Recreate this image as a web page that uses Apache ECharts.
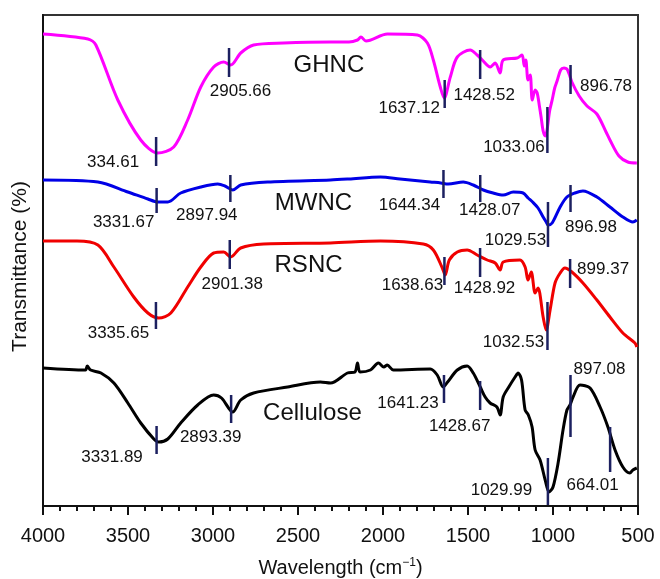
<!DOCTYPE html>
<html>
<head>
<meta charset="utf-8">
<script src="https://cdn.jsdelivr.net/npm/echarts/dist/echarts.min.js"></script>
<style>
  html, body { margin: 0; padding: 0; background: #fff; }
  #chart { width: 660px; height: 579px; }
</style>
</head>
<body>
<div id="chart"></div>
<script>
// ---------- DATA (wavenumber cm-1, transmittance in arbitrary offset units) ----------
const seriesNames = ['GHNC', 'MWNC', 'RSNC', 'Cellulose'];

const ghnc = [
  [4000, 472], [3736, 467], [3689, 461], [3560, 406], [3425, 366], [3325, 353], [3231, 359],
  [3149, 386], [3072, 419], [2996, 439], [2937, 444], [2896, 441], [2837, 453], [2761, 461],
  [2585, 463], [2309, 464], [2200, 464], [2150, 466], [2130, 469], [2100, 465], [1974, 472],
  [1798, 471], [1739, 463], [1704, 446], [1663, 419], [1640, 408], [1604, 429], [1563, 449],
  [1487, 456], [1446, 451], [1416, 446], [1369, 439], [1340, 443], [1311, 433], [1293, 446],
  [1211, 448], [1182, 451], [1169, 440], [1160, 446], [1147, 426], [1134, 431], [1122, 406],
  [1105, 416], [1093, 413], [1080, 400], [1070, 389], [1058, 375], [1045, 370], [1035, 376],
  [1020, 395], [1005, 406], [990, 418], [976, 425], [955, 436], [935, 438], [918, 437],
  [905, 432], [889, 424], [846, 410], [800, 400], [742, 392], [688, 374], [665, 366],
  [612, 350], [560, 344], [507, 343]
];

const mwnc = [
  [4000, 326], [3677, 324], [3501, 314], [3383, 307], [3325, 304], [3266, 304], [3190, 313],
  [3072, 319], [2972, 322], [2930, 320], [2884, 316], [2837, 321], [2679, 324], [2309, 326],
  [2200, 327], [2015, 329], [1900, 327], [1722, 324], [1660, 323], [1616, 322], [1528, 324],
  [1469, 321], [1410, 316], [1352, 313], [1293, 311], [1234, 314], [1176, 313], [1146, 308],
  [1120, 304], [1088, 298], [1058, 289], [1040, 284], [1029, 281], [1005, 283], [958, 299],
  [918, 309], [871, 313], [824, 315], [742, 309], [665, 299], [589, 289], [530, 284], [507, 286]
];

const rsnc = [
  [4000, 265], [3800, 265], [3677, 261], [3583, 239], [3466, 209], [3383, 193], [3319, 188],
  [3248, 193], [3149, 219], [3072, 239], [2996, 253], [2937, 254], [2896, 249], [2837, 258],
  [2702, 262], [2309, 263], [2015, 265], [1763, 262], [1704, 256], [1651, 238], [1634, 231],
  [1610, 246], [1563, 254], [1505, 256], [1446, 251], [1387, 246], [1340, 243], [1311, 236],
  [1293, 244], [1194, 246], [1164, 239], [1147, 226], [1128, 234], [1105, 213], [1088, 218],
  [1058, 189], [1040, 176], [1017, 196], [988, 223], [958, 233], [930, 238], [889, 234],
  [824, 223], [742, 206], [665, 189], [589, 173], [518, 163], [507, 159]
];

const cellulose = [
  [4000, 138], [3750, 136], [3740, 140], [3720, 136], [3659, 133], [3583, 123], [3501, 103],
  [3425, 83], [3348, 67], [3320, 64], [3266, 67], [3190, 83], [3090, 101], [2996, 111],
  [2950, 108], [2884, 94], [2837, 106], [2761, 113], [2561, 119], [2368, 124], [2309, 123],
  [2209, 133], [2165, 134], [2150, 143], [2135, 134], [2074, 136], [2027, 143], [1995, 139],
  [1975, 141], [1939, 136], [1722, 137], [1681, 131], [1646, 119], [1620, 124], [1563, 136],
  [1505, 140], [1469, 133], [1428, 119], [1399, 109], [1370, 103], [1330, 99], [1311, 91],
  [1293, 109], [1260, 119], [1223, 129], [1205, 133], [1185, 126], [1164, 96], [1145, 91],
  [1123, 79], [1105, 56], [1076, 46], [1046, 26], [1023, 14], [1000, 19], [970, 43],
  [941, 76], [918, 96], [900, 101], [882, 109], [841, 121], [782, 118], [723, 99],
  [677, 79], [635, 56], [589, 39], [548, 33], [530, 36], [507, 38]
];

// Peak markers: [wavenumber, lower transmittance, upper transmittance]
const ghncPeaks = [[3334.61, 340, 369], [2905.66, 429, 458], [1637.12, 398, 426], [1428.52, 427, 456], [1033.06, 353, 399], [896.78, 412, 441]];
const ghncPeakLabels = ['334.61', '2905.66', '1637.12', '1428.52', '1033.06', '896.78'];

const mwncPeaks = [[3331.67, 293, 318], [2897.94, 304, 331], [1644.34, 308, 336], [1428.07, 304, 331], [1029.53, 259, 304], [896.98, 294, 321]];
const mwncPeakLabels = ['3331.67', '2897.94', '1644.34', '1428.07', '1029.53', '896.98'];

const rsncPeaks = [[3335.65, 177, 204], [2901.38, 237, 266], [1638.63, 221, 249], [1428.92, 229, 258], [1032.53, 156, 204], [899.37, 218, 247]];
const rsncPeakLabels = ['3335.65', '2901.38', '1638.63', '1428.92', '1032.53', '899.37'];

const cellPeaks = [[3331.89, 52, 80], [2893.39, 83, 111], [1641.23, 103, 131], [1428.67, 96, 125], [1029.99, 1, 48], [897.08, 69, 131], [664.01, 34, 79]];
const cellPeakLabels = ['3331.89', '2893.39', '1641.23', '1428.67', '1029.99', '897.08', '664.01'];

const xTicks = { min: 500, max: 4000, step: 500 };

// ---------- LAYOUT (pixel offsets of peak labels from marker centre; name label anchors) ----------
const ghncLabelOffsets = [[-43, 10.5], [11.5, 28.5], [-35.5, 14], [4, 30.5], [-33.5, 17], [35.5, 6.5]];
const mwncLabelOffsets = [[-33, 21.5], [-23.5, 26.5], [-34, 21], [9.5, 21.5], [-32.5, 15.5], [20.5, 28.5]];
const rsncLabelOffsets = [[-37.5, 17.5], [2.5, 29.5], [-32, 14], [4.5, 25.5], [-34, 16], [33, -4.5]];
const cellLabelOffsets = [[-44.5, 17], [-20.5, 28], [-36, 14], [-20.5, 30.5], [-46.5, 8.5], [29, -37], [-17.5, 35.5]];
const nameAnchors = [[2318, 441], [2409, 303], [2438, 241], [2415, 93]];

const colors = ['#ff00ff', '#0000e6', '#f00000', '#000000'];
const markerColor = '#1c2060';
const FONT = '"Liberation Sans", Arial, Helvetica, sans-serif';

function peakSeries(peaks, labels, offsets) {
  return {
    type: 'custom',
    z: 5,
    silent: true,
    data: peaks.map((p, i) => [p[0], p[1], p[2], i]),
    encode: { x: 0, y: [1, 2] },
    renderItem: function (params, api) {
      const w = api.value(0), lo = api.value(1), hi = api.value(2);
      const idx = api.value(3);
      const a = api.coord([w, lo]);
      const b = api.coord([w, hi]);
      const off = offsets[idx];
      const cy = (a[1] + b[1]) / 2;
      return {
        type: 'group',
        children: [
          { type: 'line', shape: { x1: a[0], y1: a[1], x2: b[0], y2: b[1] },
            style: { stroke: markerColor, lineWidth: 2.5 } },
          { type: 'text', x: a[0] + off[0], y: cy + off[1],
            style: { text: labels[idx], fill: '#111', font: '17px ' + FONT,
                     align: 'center', verticalAlign: 'middle' } }
        ]
      };
    }
  };
}

const lineSeries = [ghnc, mwnc, rsnc, cellulose].map((d, i) => ({
  name: seriesNames[i],
  type: 'line',
  data: d,
  showSymbol: false,
  smooth: 0.3,
  lineStyle: { color: colors[i], width: 3 },
  itemStyle: { color: colors[i] },
  z: 3
}));

const nameSeries = {
  type: 'custom',
  z: 6,
  silent: true,
  data: nameAnchors.map((p, i) => [p[0], p[1], i]),
  renderItem: function (params, api) {
    const c = api.coord([api.value(0), api.value(1)]);
    return { type: 'text', x: c[0], y: c[1],
      style: { text: seriesNames[api.value(2)], fill: '#111', font: '24px ' + FONT,
               align: 'center', verticalAlign: 'middle' } };
  }
};

const chart = echarts.init(document.getElementById('chart'), null, { renderer: 'canvas' });
chart.setOption({
  animation: false,
  backgroundColor: '#fff',
  textStyle: { fontFamily: FONT },
  grid: { left: 43, right: 22, top: 15, bottom: 73, containLabel: false, outerBoundsMode: 'none',
          show: true, borderColor: '#333', borderWidth: 2, backgroundColor: 'transparent' },
  xAxis: {
    type: 'value', inverse: true, min: xTicks.min, max: xTicks.max, interval: xTicks.step,
    name: 'Wavelength (cm{sup|−1})',
    nameLocation: 'middle', nameGap: 51,
    nameTextStyle: { fontSize: 20, color: '#111', fontFamily: FONT,
      rich: { sup: { fontSize: 12, verticalAlign: 'top', padding: [0, 0, 10, 0], color: '#111', fontFamily: FONT } } },
    axisLine: { show: true, onZero: false, lineStyle: { color: '#111', width: 2 } },
    axisTick: { show: true, inside: false, length: 9, lineStyle: { color: '#111', width: 2 } },
    minorTick: { show: true, splitNumber: 5, length: 5, lineStyle: { color: '#111', width: 2 } },
    axisLabel: { fontSize: 20, color: '#111', margin: 20, fontFamily: FONT,
      formatter: function (v) { return String(v); } },
    splitLine: { show: false }
  },
  yAxis: {
    type: 'value', min: 0, max: 491,
    name: 'Transmittance (%)', nameLocation: 'middle', nameGap: 12, nameRotate: 90,
    nameTextStyle: { fontSize: 21, color: '#111', fontFamily: FONT, padding: [0, 12, 0, 0] },
    axisLine: { show: true, onZero: false, lineStyle: { color: '#111', width: 2 } },
    axisTick: { show: false }, axisLabel: { show: false }, splitLine: { show: false }
  },
  series: [
    ...lineSeries,
    peakSeries(ghncPeaks, ghncPeakLabels, ghncLabelOffsets),
    peakSeries(mwncPeaks, mwncPeakLabels, mwncLabelOffsets),
    peakSeries(rsncPeaks, rsncPeakLabels, rsncLabelOffsets),
    peakSeries(cellPeaks, cellPeakLabels, cellLabelOffsets),
    nameSeries
  ]
});
</script>
</body>
</html>
